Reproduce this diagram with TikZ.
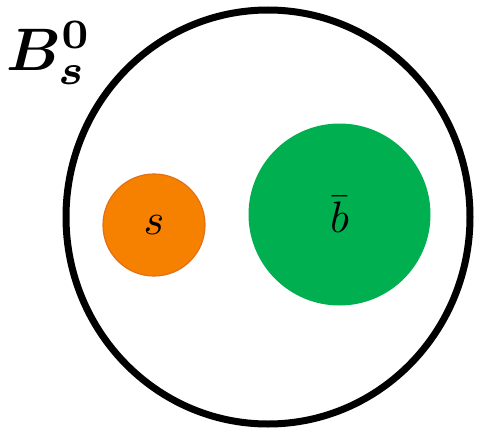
\documentclass[tikz,border=0pt]{standalone}
\usepackage{amsmath,bm,graphicx}
\definecolor{sorange}{RGB}{246,128,0}
\definecolor{sorangeb}{RGB}{228,112,20}
\definecolor{bgreen}{RGB}{0,176,80}
\begin{document}
\begin{tikzpicture}[x=1pt,y=-1pt,
  outer/.style={draw=black,line width=7pt},
  quark/.style={circle,inner sep=0pt}]
\useasboundingbox (0,0) rectangle (477,431);
\draw[outer] (268,217) ellipse [x radius=202pt, y radius=207pt];
\node[quark,minimum size=102pt,fill=sorange,draw=sorangeb,line width=1.2pt] (s) at (154,225) {\scalebox{4.4}{$s$}};
\node[quark,minimum size=182pt,fill=bgreen] (b) at (339.5,214.5) {\scalebox{4.4}{$\bar{b}$}};
\node[anchor=center] (B) at (49,53) {\scalebox{6}{$\bm{B_s^0}$}};
\end{tikzpicture}
\end{document}
